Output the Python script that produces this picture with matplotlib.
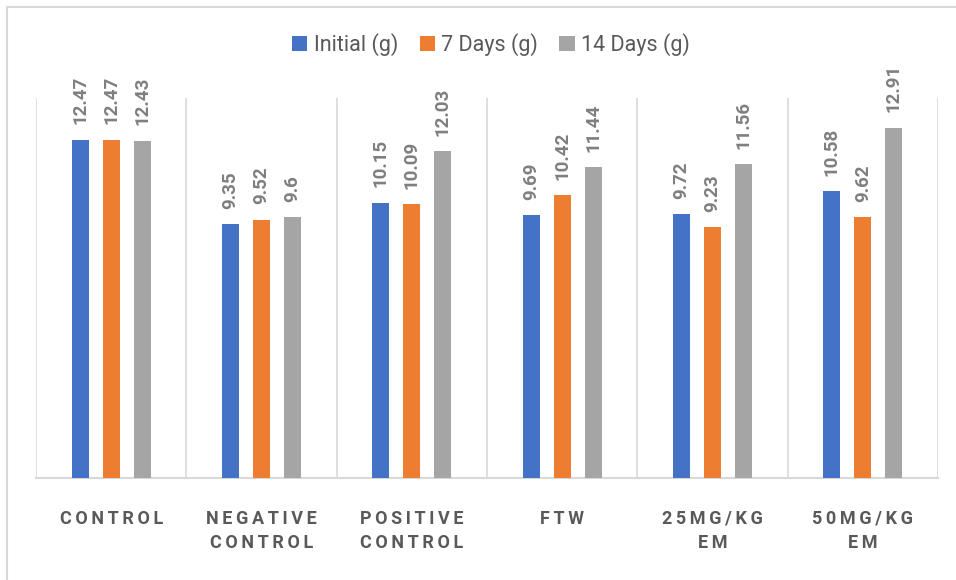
import matplotlib
matplotlib.use('Agg')
import matplotlib.pyplot as plt
import numpy as np
from matplotlib.patches import Rectangle

categories = ['CONTROL', 'NEGATIVE\nCONTROL', 'POSITIVE\nCONTROL', 'FTW', '25MG/KG\nEM', '50MG/KG\nEM']
series_names = ['Initial (g)', '7 Days (g)', '14 Days (g)']
initial = [12.47, 9.35, 10.15, 9.69, 9.72, 10.58]
days7 = [12.47, 9.52, 10.09, 10.42, 9.23, 9.62]
days14 = [12.43, 9.6, 12.03, 11.44, 11.56, 12.91]
colors = ['#4472C4', '#ED7D31', '#A5A5A5']

narrow = ['Roboto', 'DejaVu Sans']


def spaced(label):
    # fake the letter spacing used on the category axis
    return '\n'.join('\u2009'.join(line) for line in label.split('\n'))


fig = plt.figure(figsize=(9.56, 5.8), dpi=100)
fig.patches.append(Rectangle((7/956, -0.1), 1.2, (580-7)/580 + 0.1, transform=fig.transFigure,
                             fill=False, edgecolor='#D9D9D9', linewidth=1.5))
ax = fig.add_axes([36/956, 102/580, 902/956, 380/580])

x = np.arange(len(categories))
width = 0.113
step = 0.207
for i, (vals, name) in enumerate(zip([initial, days7, days14], series_names)):
    bars = ax.bar(x + (i-1)*step, vals, width, color=colors[i], label=name, zorder=3)
    for b, v in zip(bars, vals):
        ax.annotate(f'{v:g}', (b.get_x() + b.get_width()/2, v), xytext=(0, 11),
                    textcoords='offset points', rotation=90, ha='center', va='bottom',
                    fontsize=13.5, color='#7F7F7F', fontweight='bold', family=narrow)

for i in range(len(categories)+1):
    ax.axvline(i - 0.5, color='#D9D9D9', linewidth=1.2, zorder=1)

ax.set_xlim(-0.5, len(categories)-0.5)
ax.set_ylim(0, 14)
ax.set_yticks([])
ax.set_xticks(x)
ax.set_xticklabels([spaced(c) for c in categories], fontsize=13, fontweight='bold',
                   family=narrow, color='#595959', linespacing=1.4)
ax.tick_params(axis='x', length=0, pad=23)
for s in ['top', 'right', 'left']:
    ax.spines[s].set_visible(False)
ax.spines['bottom'].set_color('#D9D9D9')
ax.spines['bottom'].set_linewidth(1.5)

leg = fig.legend(loc='center', bbox_to_anchor=(491/956, 1 - 45/580), ncol=3, frameon=False,
                 handlelength=0.7, handleheight=0.7, handletextpad=0.3, columnspacing=1.0,
                 prop={'family': narrow, 'size': 15.5})
for t in leg.get_texts():
    t.set_color('#595959')

plt.savefig('out.png', dpi=100)
